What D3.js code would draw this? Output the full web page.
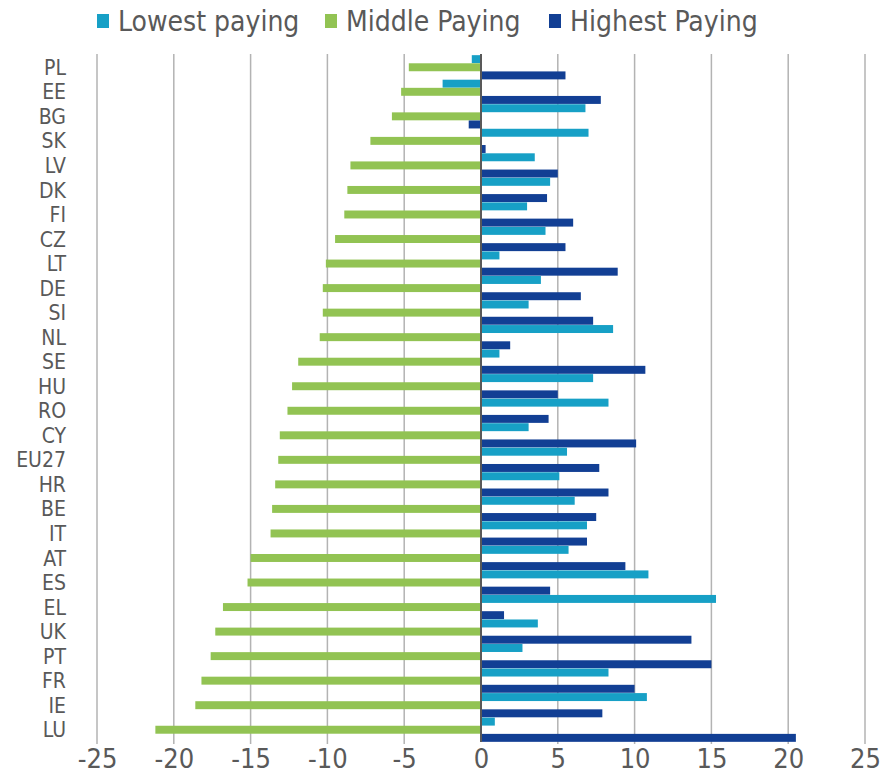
<!DOCTYPE html>
<html>
<head>
<meta charset="utf-8">
<script src="https://cdn.jsdelivr.net/npm/d3@7"></script>
<style>
  body { margin: 0; background: #fff; }
  text { font-family: "Liberation Sans Narrow", "DejaVu Sans Condensed", sans-serif; fill: #595959; }
</style>
</head>
<body>
<div id="container"></div>
<script>
// Declare the chart dimensions and margins.
const width = 883;
const height = 780;
const marginTop = 55;
const marginBottom = 38;

// data
const countries = ["PL", "EE", "BG", "SK", "LV", "DK", "FI", "CZ", "LT", "DE", "SI", "NL", "SE", "HU",
    "RO", "CY", "EU27", "HR", "BE", "IT", "AT", "ES", "EL", "UK", "PT", "FR", "IE", "LU"];
const lowestPaying = [-0.6, -2.5, 6.8, 7.0, 3.5, 4.5, 3.0, 4.2, 1.2, 3.9, 3.1, 8.6, 1.2, 7.3,
    8.3, 3.1, 5.6, 5.1, 6.1, 6.9, 5.7, 10.9, 15.3, 3.7, 2.7, 8.3, 10.8, 0.9];
const middlePaying = [-4.7, -5.2, -5.8, -7.2, -8.5, -8.7, -8.9, -9.5, -10.1, -10.3, -10.3, -10.5, -11.9, -12.3,
    -12.6, -13.1, -13.2, -13.4, -13.6, -13.7, -15.0, -15.2, -16.8, -17.3, -17.6, -18.2, -18.6, -21.2];
const highestPaying = [5.5, 7.8, -0.8, 0.3, 5.0, 4.3, 6.0, 5.5, 8.9, 6.5, 7.3, 1.9, 10.7, 5.0,
    4.4, 10.1, 7.7, 8.3, 7.5, 6.9, 9.4, 4.5, 1.5, 13.7, 15.0, 10.0, 7.9, 20.5];
const seriesNames = ["Lowest paying", "Middle Paying", "Highest Paying"];
const xTicks = [-25, -20, -15, -10, -5, 0, 5, 10, 15, 20, 25];

const colorScale = d3.scaleOrdinal()
    .domain(seriesNames)
    .range(["#17a0c6", "#92c353", "#123f94"]);

const rows = countries.map((c, i) => ({
    country: c,
    values: [
        { key: seriesNames[0], value: lowestPaying[i] },
        { key: seriesNames[1], value: middlePaying[i] },
        { key: seriesNames[2], value: highestPaying[i] }
    ]
}));

// Scales
const x = d3.scaleLinear()
    .domain([-25, 25])
    .range([97, 865]);

const y = d3.scaleBand()
    .domain(countries)
    .range([marginTop, height - marginBottom])
    .paddingInner(0)
    .paddingOuter(0);

const ySub = d3.scaleBand()
    .domain(seriesNames)
    .range([0, y.bandwidth()])
    .padding(0.02);

const svg = d3.select("#container").append("svg")
    .attr("width", width)
    .attr("height", height)
    .attr("viewBox", [0, 0, width, height]);

// vertical gridlines
svg.append("g")
    .selectAll("line")
    .data(xTicks.filter(d => d !== 0))
    .join("line")
    .attr("x1", d => x(d))
    .attr("x2", d => x(d))
    .attr("y1", marginTop - 1)
    .attr("y2", height - marginBottom + 2)
    .attr("stroke", "#b3b3b3")
    .attr("stroke-width", 1.5);

// bars
svg.append("g")
    .selectAll("g")
    .data(rows)
    .join("g")
    .attr("transform", d => `translate(0,${y(d.country)})`)
    .selectAll("rect")
    .data(d => d.values)
    .join("rect")
    .attr("x", d => x(Math.min(0, d.value)))
    .attr("y", d => ySub(d.key))
    .attr("width", d => Math.abs(x(d.value) - x(0)))
    .attr("height", ySub.bandwidth())
    .attr("fill", d => colorScale(d.key));

// zero axis line
svg.append("line")
    .attr("x1", x(0))
    .attr("x2", x(0))
    .attr("y1", marginTop - 1)
    .attr("y2", height - marginBottom)
    .attr("stroke", "#595959")
    .attr("stroke-width", 2);

// category labels
svg.append("g")
    .selectAll("text")
    .data(countries)
    .join("text")
    .attr("x", 66)
    .attr("y", d => y(d) + y.bandwidth() / 2)
    .attr("dy", "0.36em")
    .attr("text-anchor", "end")
    .style("font-size", "21px")
    .text(d => d);

// x axis labels (plain hyphen like the original)
svg.append("g")
    .call(d3.axisBottom(x).tickValues(xTicks).tickFormat(d => String(d)).tickSize(0).tickPadding(0))
    .attr("transform", `translate(0,${height - 31})`)
    .call(g => g.select(".domain").remove())
    .call(g => g.selectAll("text")
        .attr("font-family", null)
        .style("font-size", "27px")
        .attr("fill", "#595959"));

// legend
const legendX = [97, 325, 549];
const legend = svg.append("g");
seriesNames.forEach((name, i) => {
    const row = legend.append("g")
        .attr("transform", `translate(${legendX[i]},13)`);
    row.append("rect")
        .attr("width", 12)
        .attr("height", 14)
        .attr("y", 1)
        .attr("fill", colorScale(name));
    row.append("text")
        .attr("x", 21)
        .attr("y", 8)
        .attr("dy", "0.36em")
        .style("font-size", "28px")
        .text(name);
});
</script>
</body>
</html>
